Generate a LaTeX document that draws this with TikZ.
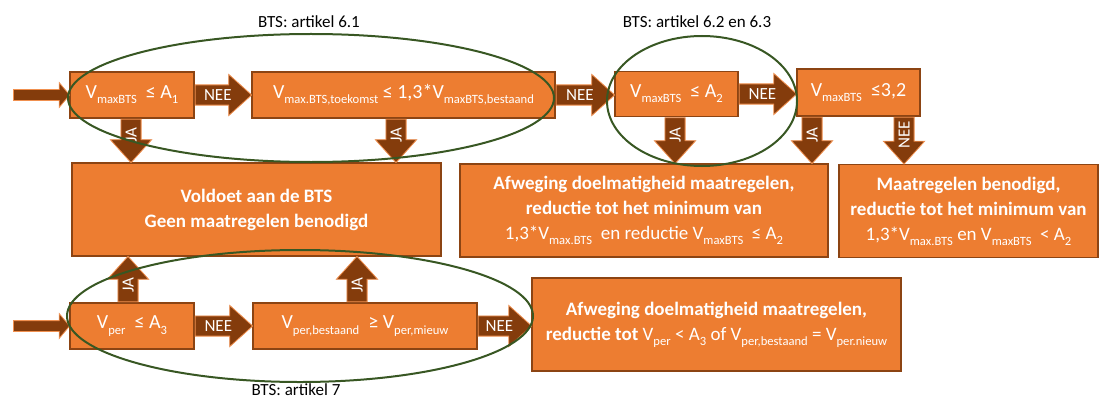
\documentclass[tikz,border=0pt]{standalone}
\usepackage{fontspec}
\setmainfont{Carlito}
\usetikzlibrary{calc,shapes.arrows}
\definecolor{boxfill}{HTML}{ED7D31}
\definecolor{boxedge}{HTML}{8C4413}
\definecolor{flowfill}{HTML}{843C0C}
\definecolor{flowedge}{HTML}{F0904F}
\definecolor{zonegreen}{HTML}{385723}
\newcommand{\lo}[1]{\raisebox{-0.55ex}{\fontsize{6.3}{7}\selectfont #1}}
% block arrow from one point to another
\newcommand{\barrow}[4][]{%
	\path let \p1=(#2), \p2=(#3), \n1={veclen(\x2-\x1,\y2-\y1)} in
		node[flow, #1, minimum height=\n1, anchor=tail] at (\p1) {#4};
}
\tikzset{
	cond/.style={draw=boxedge, fill=boxfill, line width=0.8pt, text=white, inner sep=0pt,
			minimum height=23pt, align=center, font=\fontsize{10}{12}\selectfont},
	outcome/.style={cond, minimum height=46.5pt, font=\fontsize{9.5}{12.5}\selectfont},
	flow/.style={single arrow, draw=flowedge, fill=flowfill, line width=0.4pt, text=white,
			single arrow head extend=5.25pt, single arrow tip angle=84, minimum width=20pt,
			text height=5.5pt, text depth=0pt, inner ysep=2.1pt, inner xsep=0pt,
			font=\fontsize{8.5}{10}\selectfont},
	entry/.style={single arrow head extend=3.5pt, single arrow tip angle=100, minimum width=12pt,
			text height=0pt, inner ysep=2.5pt},
	down/.style={rotate=90, shape border rotate=180},
	up/.style={rotate=90},
	zone/.style={draw=zonegreen, line width=1pt},
	caption/.style={font=\fontsize{8.5}{10}\selectfont}
}

\begin{document}
\begin{tikzpicture}[x=0.5pt,y=-0.5pt]
	\useasboundingbox (0,0) rectangle (1106,401);

	% top row
	\node[cond, minimum width=62pt] (vmaxa) at (132,95) {V\lo{maxBTS}\ \ ≤ A\lo{1}};
	\node[cond, minimum width=151.5pt] (toek) at (403.5,95) {V\lo{max.BTS,toekomst} ≤ 1,3*V\lo{maxBTS,bestaand}};
	\node[cond, minimum width=61.5pt, minimum height=22.5pt] (vmaxb) at (676.5,94) {V\lo{maxBTS}\ \ ≤ A\lo{2}};
	\node[cond, minimum width=61.5pt, minimum height=23.5pt] (vmaxc) at (858.5,92.5) {V\lo{maxBTS}\ \ ≤3,2};

	% outcomes
	\node[outcome, minimum width=184.5pt] (ok) at (256.5,209.5) {\textbf{Voldoet aan de BTS}\\\textbf{Geen maatregelen benodigd}};
	\node[outcome, minimum width=184pt] (afw) at (644,210.5)
		{\textbf{Afweging doelmatigheid maatregelen,}\\\textbf{reductie tot het minimum van}\\
		1,3*V\lo{max.BTS}\ \ en reductie V\lo{maxBTS}\ \ ≤ A\lo{2}};
	\node[outcome, minimum width=129.5pt] (need) at (968.5,211)
		{\textbf{Maatregelen benodigd,}\\\textbf{reductie tot het minimum van}\\
		1,3*V\lo{max.BTS} en V\lo{maxBTS}\ \ < A\lo{2}};

	% bottom row
	\node[cond, minimum width=62pt] (vper) at (132,326) {V\lo{per}\ \ ≤ A\lo{3}};
	\node[cond, minimum width=112pt] (vbest) at (365,326) {V\lo{per,bestaand}\ \ ≥ V\lo{per,mieuw}};
	\node[outcome, minimum width=184.5pt] (afwper) at (716.5,324.5)
		{\textbf{Afweging doelmatigheid maatregelen,}\\
		\textbf{reductie tot} V\lo{per} < A\lo{3} of V\lo{per,bestaand} = V\lo{per.nieuw}};

	% start points and arrow positions
	\coordinate (in1) at (13,95);
	\coordinate (in2) at (13,326);
	\coordinate (ja1) at ([xshift=-0.5pt]vmaxa.south);
	\coordinate (ja2) at ([xshift=-3.75pt]toek.south);
	\coordinate (ja3) at ([xshift=-0.75pt]vmaxb.south);
	\coordinate (ja4) at ([xshift=-23.25pt]vmaxc.south);
	\coordinate (nee4) at ([xshift=22.75pt]vmaxc.south);
	\coordinate (ja5) at ([xshift=-2pt]vper.north);
	\coordinate (ja6) at ([xshift=-4pt]vbest.north);

	\barrow[entry]{in1}{vmaxa.west}{}
	\barrow[entry]{in2}{vper.west}{}
	\barrow{vmaxa.east}{toek.west}{NEE}
	\barrow{toek.east}{vmaxb.west}{NEE}
	\barrow{vmaxb.east}{vmaxc.west}{NEE}
	\barrow{vper.east}{vbest.west}{NEE}
	\barrow{vbest.east}{afwper.west}{NEE}

	\barrow[down]{ja1}{ja1 |- ok.north}{JA}
	\barrow[down]{ja2}{ja2 |- ok.north}{JA}
	\barrow[down]{ja3}{ja3 |- afw.north}{JA}
	\barrow[down]{ja4}{ja4 |- afw.north}{JA}
	\barrow[down]{nee4}{nee4 |- need.north}{NEE}
	\barrow[up]{ja5}{ja5 |- ok.south}{JA}
	\barrow[up]{ja6}{ja6 |- ok.south}{JA}

	% BTS articles
	\draw[zone] (311,98) ellipse [x radius=121.5pt, y radius=32pt];
	\draw[zone] (702,101) ellipse [x radius=47.5pt, y radius=32.5pt];
	\draw[zone] (300,316) ellipse [x radius=116.5pt, y radius=33pt];
	\node[caption] (art61) at (309,22) {BTS: artikel 6.1};
	\node[caption] (art623) at (697,22) {BTS: artikel 6.2 en 6.3};
	\node[caption] (art7) at (296,390) {BTS: artikel 7};
\end{tikzpicture}
\end{document}
